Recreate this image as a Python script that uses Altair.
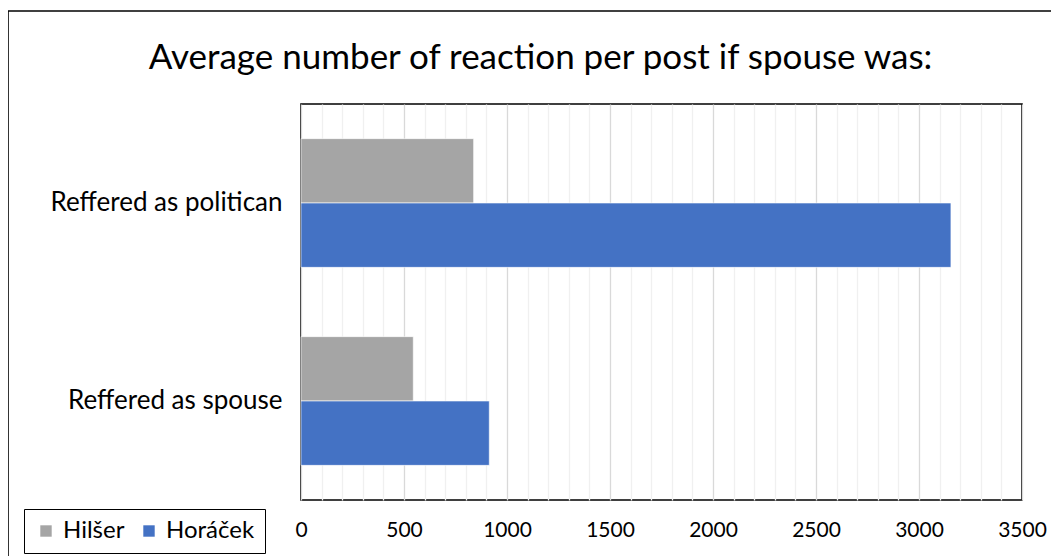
import altair as alt
import pandas as pd

categories = ["Reffered as politican", "Reffered as spouse"]
series = ["Hilšer", "Horáček"]
hilser = [838, 545]
horacek = [3155, 914]
major_ticks = [0, 500, 1000, 1500, 2000, 2500, 3000, 3500]
minor_ticks = list(range(0, 3501, 100))
colors = ["#a5a5a5", "#4472c4"]
title_text = "Average number of reaction per post if spouse was:"

rows = []
for c, h, k in zip(categories, hilser, horacek):
    rows.append({"category": c, "series": series[0], "value": h})
    rows.append({"category": c, "series": series[1], "value": k})
df = pd.DataFrame(rows)

FONT = "Lato"

bars = alt.Chart(df).mark_bar(stroke="white", strokeWidth=0.6).encode(
    x=alt.X(
        "value:Q",
        scale=alt.Scale(domain=[0, 3500], nice=False, zero=True),
        axis=alt.Axis(
            title=None,
            values=minor_ticks,
            format="d",
            labelExpr="datum.value % 500 === 0 ? datum.label : ''",
            labelOverlap=False,
            labelFlush=False,
            ticks=False,
            domain=False,
            labelFontSize=21,
            labelPadding=19,
            gridColor={"condition": {"test": "datum.value % 500 === 0", "value": "#d9d9d9"}, "value": "#f0f0f0"},
            gridWidth=1.3,
        ),
    ),
    y=alt.Y(
        "category:N",
        sort=categories,
        scale=alt.Scale(paddingInner=0.35, paddingOuter=0.175),
        axis=alt.Axis(title=None, ticks=False, domain=False, labelFontSize=26, labelPadding=19,
                      labelLimit=400, grid=False),
    ),
    yOffset=alt.YOffset("series:N", sort=series),
    color=alt.Color(
        "series:N",
        sort=series,
        scale=alt.Scale(domain=series, range=colors),
        legend=alt.Legend(
            title=None,
            orient="none",
            legendX=-277,
            legendY=405,
            direction="horizontal",
            symbolType="square",
            symbolSize=130,
            symbolStrokeWidth=0,
            labelFontSize=24,
            labelOffset=5,
            columnPadding=12,
            padding=10,
            strokeColor="black",
        ),
    ),
)

frame_df = pd.DataFrame({"k": [0]})
left_line = alt.Chart(frame_df).mark_rule(color="black", strokeWidth=1.6).encode(
    x=alt.value(-293), y=alt.value(-93), y2=alt.value(460)
)
top_line = alt.Chart(frame_df).mark_rule(color="black", strokeWidth=1.6).encode(
    x=alt.value(-293), x2=alt.value(760), y=alt.value(-93)
)

chart = alt.layer(bars, left_line, top_line).properties(
    width=721,
    height=396,
    autosize=alt.AutoSizeParams(type="none"),
    padding={"left": 293, "top": 96, "right": 29, "bottom": 56},
    title=alt.TitleParams(title_text, fontSize=35, font=FONT, fontWeight="normal", color="black",
                          anchor="middle", dx=-121, offset=-66),
).configure(
    font=FONT,
).configure_view(
    stroke="black", strokeWidth=1.6
).configure_axis(
    labelFont=FONT, labelColor="black"
).configure_legend(
    labelFont=FONT, labelColor="black"
)

chart.save("out.html", embed_options={"renderer": "svg", "actions": False})
